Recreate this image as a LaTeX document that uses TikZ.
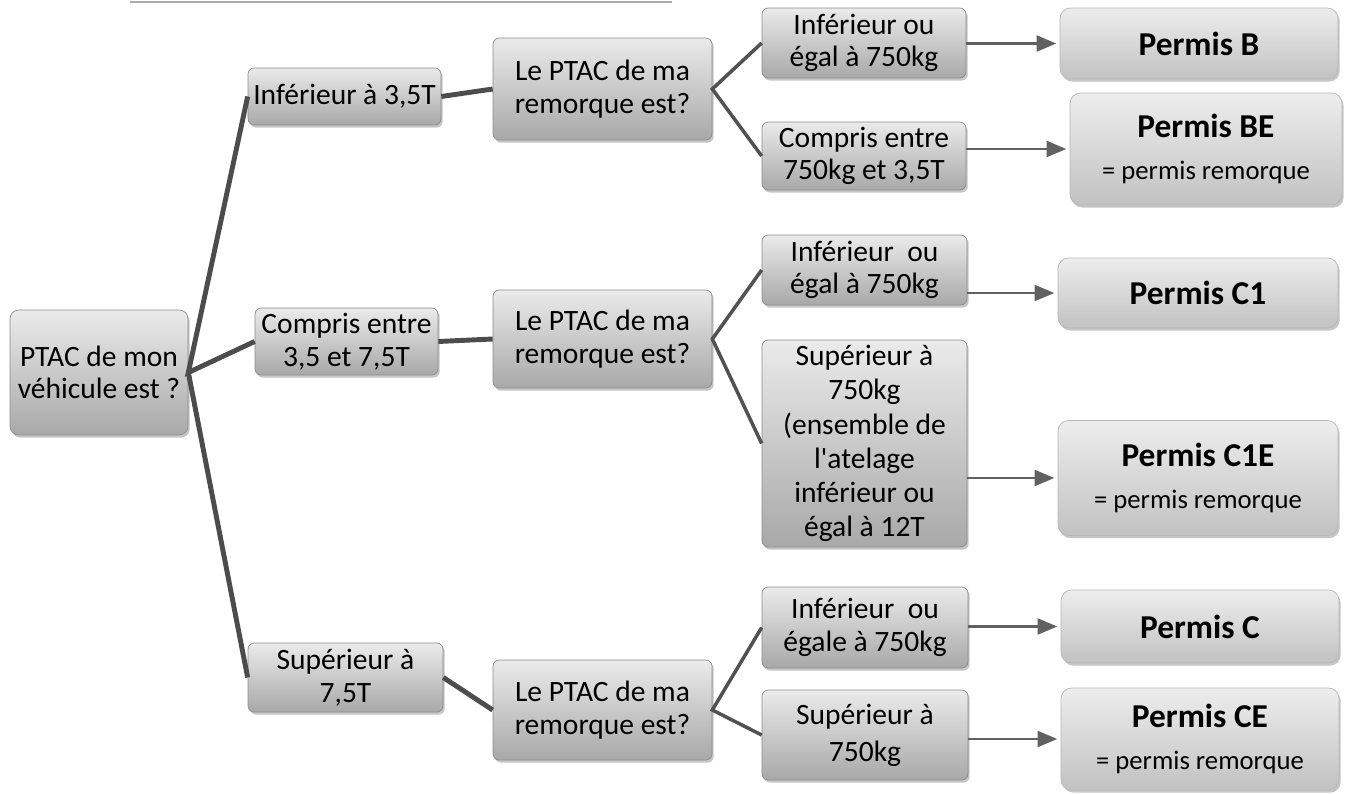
\documentclass[tikz,border=0pt]{standalone}
\usepackage{fontspec}
\setmainfont{Carlito}[Ligatures=TeXOff]
\usetikzlibrary{arrows,shadows}
\tikzset{
    >=triangle 45 % Default arrow tip
}
\tikzstyle{choice}=[
    draw = black!45,
    rounded corners = 3.5pt,
    top color = black!8,
    bottom color = black!34,
    drop shadow = {shadow xshift=1pt, shadow yshift=-1.5pt, opacity=0.45},
    align = center,
    inner sep = 0pt,
    font = \fontsize{16.8}{18.6}\selectfont
]
\tikzstyle{permit}=[
    choice,
    draw = black!28,
    rounded corners = 6pt,
    top color = black!7,
    bottom color = black!24
]
\tikzstyle{branch}=[draw=black!70, line width=2.8pt]
\tikzstyle{twig}=[draw=black!68, line width=2pt]
\tikzstyle{pointer}=[->, draw=black!62, line width=1.6pt, shorten >=2pt]
\newcommand{\permit}[2]{{\fontsize{19}{21}\selectfont\bfseries #1}\\[5pt]{\fontsize{15.2}{17}\selectfont #2}}

\begin{document}
\begin{tikzpicture}[x=0.02cm, y=-0.02cm]
    \useasboundingbox (0,0) rectangle (1347,794);
    \draw[black!33, line width=1pt] (130,2) -- (672,2);

    % question about the vehicle
    \node[choice, rounded corners=5pt, minimum width=3.56cm, minimum height=2.5cm] (root) at (99,372.5)
        {PTAC de mon\\v\'ehicule est ?};

    % weight of the vehicle
    \node[choice, minimum width=3.86cm, minimum height=1.14cm] (low) at (344.5,96.5) {Inf\'erieur \`a 3,5T};
    \node[choice, minimum width=3.66cm, minimum height=1.34cm] (mid) at (346.5,341.5) {Compris entre\\3,5 et 7,5T};
    \node[choice, minimum width=3.9cm, minimum height=1.38cm] (high) at (345.5,677.5) {Sup\'erieur \`a\\7,5T};

    % question about the trailer
    \node[choice, minimum width=4.38cm, minimum height=2.04cm] (lowq) at (602.5,89) {Le PTAC de ma\\remorque est?};
    \node[choice, minimum width=4.38cm, minimum height=1.96cm] (midq) at (602.5,339) {Le PTAC de ma\\remorque est?};
    \node[choice, minimum width=4.38cm, minimum height=2cm] (highq) at (602.5,710) {Le PTAC de ma\\remorque est?};

    % weight of the trailer
    \node[choice, minimum width=4.08cm, minimum height=1.4cm] (lowa) at (864,43) {Inf\'erieur ou\\\'egal \`a 750kg};
    \node[choice, minimum width=4.08cm, minimum height=1.36cm] (lowb) at (864,156) {Compris entre\\750kg et 3,5T};
    \node[choice, minimum width=4.1cm, minimum height=1.4cm] (mida) at (864.5,270) {Inf\'erieur\ \ ou\\\'egal \`a 750kg};
    \node[choice, minimum width=4.1cm, minimum height=4.14cm, font=\fontsize{16.8}{19.4}\selectfont] (midb) at (864.5,443.5)
        {Sup\'erieur \`a\\750kg\\(ensemble de\\l'atelage\\inf\'erieur ou\\\'egal \`a 12T};
    \node[choice, minimum width=4.12cm, minimum height=1.62cm] (higha) at (865,627.5) {Inf\'erieur\ \ ou\\\'egale \`a 750kg};
    \node[choice, minimum width=4.12cm, minimum height=1.8cm, font=\fontsize{16.8}{21}\selectfont] (highb) at (865,735) {Sup\'erieur \`a\\750kg};

    % driving licences
    \node[permit, minimum width=5.56cm, minimum height=1.42cm, font=\fontsize{19}{21}\selectfont\bfseries] (pB) at (1199,43.5) {Permis B};
    \node[permit, minimum width=5.44cm, minimum height=2.24cm] (pBE) at (1206,149) {\permit{Permis BE}{= permis remorque}};
    \node[permit, minimum width=5.6cm, minimum height=1.4cm, font=\fontsize{19}{21}\selectfont\bfseries] (pC1) at (1198,293) {Permis C1};
    \node[permit, minimum width=5.6cm, minimum height=2.3cm] (pC1E) at (1198,478) {\permit{Permis C1E}{= permis remorque}};
    \node[permit, minimum width=5.56cm, minimum height=1.46cm, font=\fontsize{19}{21}\selectfont\bfseries] (pC) at (1200,626.5) {Permis C};
    \node[permit, minimum width=5.56cm, minimum height=2.04cm] (pCE) at (1200,739) {\permit{Permis CE}{= permis remorque}};

    % connectors
    \draw[branch] (low.west) -- (root.east) -- (mid.west);
    \draw[branch] (root.east) -- (high.west);
    \draw[branch] (low.east) -- (lowq.west);
    \draw[branch] (mid.east) -- (midq.west);
    \draw[branch] (high.east) -- (highq.west);
    \draw[twig] (lowa.west) -- (lowq.east) -- (lowb.west);
    \draw[twig] (mida.west) -- (midq.east) -- (midb.west);
    \draw[twig] (higha.west) -- (highq.east) -- (highb.west);

    % arrows
    \draw[pointer] (lowa.east |- pB.west) -- (pB.west);
    \draw[pointer] (lowb.east |- pBE.west) -- (pBE.west);
    \draw[pointer] (mida.east |- pC1.west) -- (pC1.west);
    \draw[pointer] (midb.east |- pC1E.west) -- (pC1E.west);
    \draw[pointer] (higha.east |- pC.west) -- (pC.west);
    \draw[pointer] (highb.east |- pCE.west) -- (pCE.west);
\end{tikzpicture}
\end{document}
